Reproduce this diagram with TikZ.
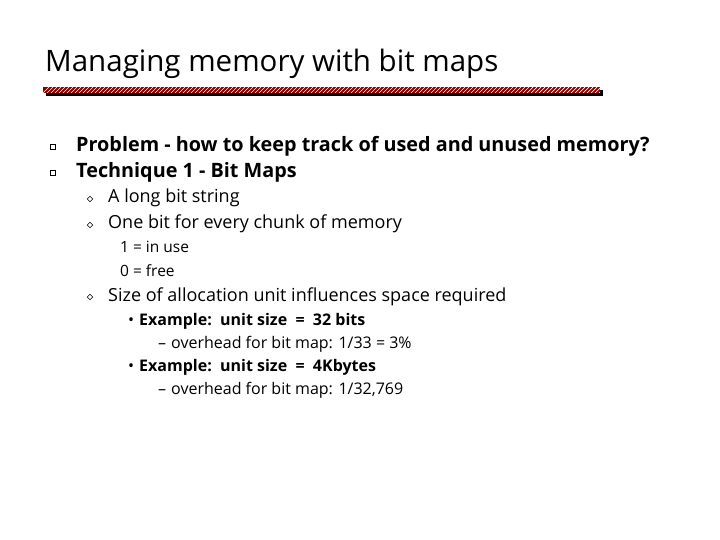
\documentclass[tikz,border=0pt]{standalone}
\usepackage{fontspec}
\setmainfont{Open Sans}
\begin{document}
\begin{tikzpicture}[x=1pt,y=-1pt,
  txt/.style={anchor=base west,inner sep=0pt},
  sq/.style={draw,line width=0.6pt,minimum size=5pt,inner sep=0pt,fill=white},
  dia/.style={draw,line width=0.5pt,minimum size=4pt,inner sep=0pt,rotate=45}]
\useasboundingbox (0,0) rectangle (720,540);
\node[txt,font=\fontsize{29.5}{32}\selectfont] (title) at (45,72) {Managing memory with bit maps};
\fill[black] (46,90) rectangle (603,96);
\fill[red!55!black] (43,87) rectangle (600,93);
\begin{scope}
\clip (43,87) rectangle (600,93);
\foreach \i in {0,4,...,560} \draw[white,line width=0.7pt] (43+\i,93) -- (49+\i,87);
\end{scope}
\node[sq] (b1) at (53,147) {};
\node[sq] (b2) at (53,173) {};
\node[txt,font=\fontsize{19.8}{22}\bfseries] (l1) at (76,152) {Problem - how to keep track of used and unused memory?};
\node[txt,font=\fontsize{19.8}{22}\bfseries] (l2) at (76,178) {Technique 1 - Bit Maps};
\node[dia] (d1) at (90,199) {};
\node[dia] (d2) at (90,225) {};
\node[dia] (d3) at (90,297) {};
\node[txt,font=\fontsize{18}{19}\selectfont] (s1) at (108,203) {A long bit string};
\node[txt,font=\fontsize{18}{19}\selectfont] (s2) at (108,229) {One bit for every chunk of memory};
\node[txt,font=\fontsize{15.5}{16}\selectfont] (t1) at (120,252) {1 = in use};
\node[txt,font=\fontsize{15.5}{16}\selectfont] (t2) at (120,276) {0 = free};
\node[txt,font=\fontsize{18}{19}\selectfont] (s3) at (108,301) {Size of allocation unit influences space required};
\node[txt,font=\fontsize{16}{16}\selectfont] (e1) at (128,325) {\textbullet\hspace{5pt}\textbf{Example:\ \ unit size\ \ =\ \ 32 bits}};
\node[txt,font=\fontsize{16}{16}\selectfont] (o1) at (158,348) {–\hspace{5pt}overhead for bit map: 1/33 = 3\%};
\node[txt,font=\fontsize{16}{16}\selectfont] (e2) at (128,371) {\textbullet\hspace{5pt}\textbf{Example:\ \ unit size\ \ =\ \ 4Kbytes}};
\node[txt,font=\fontsize{16}{16}\selectfont] (o2) at (158,394) {–\hspace{5pt}overhead for bit map: 1/32,769};
\end{tikzpicture}
\end{document}
